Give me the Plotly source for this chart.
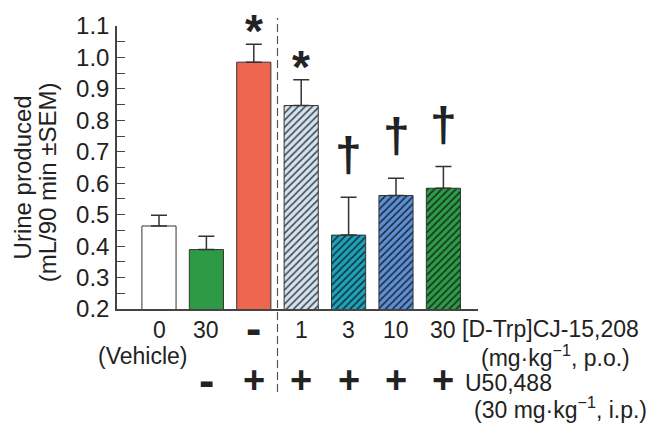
import plotly.graph_objects as go

# ---- data ----
groups = ["0", "30", "-", "1", "3", "10", "30"]
means = [0.464, 0.389, 0.985, 0.847, 0.435, 0.561, 0.584]
sem = [0.034, 0.042, 0.057, 0.082, 0.120, 0.055, 0.069]
u50488 = ["", "-", "+", "+", "+", "+", "+"]
marks = ["", "", "*", "*", "†", "†", "†"]
y_ticks = [0.2, 0.3, 0.4, 0.5, 0.6, 0.7, 0.8, 0.9, 1.0, 1.1]
y_ticklabels = ["0.2", "0.3", "0.4", "0.5", "0.6", "0.7", "0.8", "0.9", "1.0", "1.1"]

# ---- styles ----
bg_colors = ["#ffffff", "#2e9a45", "#ef6650", "#d8e2ea", "#1ba3b8", "#5e8fd0", "#2f9a48"]
fg_colors = ["#ffffff", "#2e9a45", "#ef6650", "#3a4a5a", "#15303e", "#1a2a44", "#10321c"]
shapes = ["", "", "", "/", "/", "/", "/"]
FONT = "Liberation Sans, Arial, sans-serif"
TXT = "#222222"

W, H = 652, 423
L, R, T, B = 117, 174, 23, 114
pw, ph = W - L - R, H - T - B

def px(xp):
    return (xp - L) / pw

def py(yp):
    return (H - B - yp) / ph

def label(x, y, text, size, xref="paper", xanchor="center", angle=0):
    return dict(x=x, y=y, xref=xref, yref="paper", text=text, showarrow=False,
                xanchor=xanchor, yanchor="middle", textangle=angle,
                font=dict(family=FONT, size=size, color=TXT))

fig = go.Figure()
for i in range(len(groups)):
    pat = dict(shape=shapes[i])
    if shapes[i]:
        pat.update(fgcolor=fg_colors[i], bgcolor=bg_colors[i], fgopacity=1,
                   size=5, solidity=0.32, fillmode="overlay")
    fig.add_trace(go.Bar(
        x=[i], y=[means[i]], width=0.72,
        marker=dict(color=bg_colors[i], line=dict(color="#333333", width=1), pattern=pat),
        error_y=dict(type="data", array=[sem[i]], arrayminus=[0], symmetric=False,
                     color="#333333", thickness=1.5, width=8),
        showlegend=False,
    ))

ann = []
# significance marks
for i, m in enumerate(marks):
    if not m:
        continue
    top = means[i] + sem[i]
    if m == "*":
        ann.append(dict(x=i, y=top, xref="x", yref="y", text="<b>*</b>", showarrow=False,
                        xanchor="center", yanchor="bottom", yshift=-15,
                        font=dict(family=FONT, size=46, color=TXT)))
    else:
        ann.append(dict(x=i, y=top, xref="x", yref="y", text="<b>†</b>", showarrow=False,
                        xanchor="center", yanchor="bottom", yshift=14,
                        font=dict(family=FONT, size=48, color=TXT)))

# row 1: dose labels
for i, g in enumerate(groups):
    if g == "-":
        ann.append(label(i, py(328), "<b>-</b>", 46, xref="x"))
    else:
        ann.append(label(i, py(330), g, 23, xref="x"))
ann.append(label(px(460), py(329), "[D-Trp]CJ-15,208", 23, xanchor="left"))
# row 2
ann.append(label(px(142), py(357), "(Vehicle)", 23))
ann.append(label(px(479), py(356), "(mg·kg<sup>−1</sup>, p.o.)", 23, xanchor="left"))
# row 3: U50,488
for i, s in enumerate(u50488):
    if not s:
        continue
    if s == "-":
        ann.append(label(i, py(381), "<b>-</b>", 46, xref="x"))
    else:
        ann.append(label(i, py(381), "<b>+</b>", 38, xref="x"))
ann.append(label(px(463), py(384), "U50,488", 23, xanchor="left"))
# row 4
ann.append(label(px(472), py(409), "(30 mg·kg<sup>−1</sup>, i.p.)", 23, xanchor="left"))
# y title (two lines)
ann.append(label(px(22), py(176), "Urine produced", 24, angle=-90))
ann.append(label(px(47), py(181), "(mL/90 min ±SEM)", 24, angle=-90))

fig.update_layout(
    width=W, height=H,
    margin=dict(l=L, r=R, t=T, b=B),
    paper_bgcolor="white", plot_bgcolor="white",
    barmode="overlay",
    annotations=ann,
    shapes=[dict(type="line", xref="x", yref="paper", x0=2.5, x1=2.5,
                 y0=py(393), y1=py(15), line=dict(color="#555555", width=1.2, dash="8px,4px"))],
    xaxis=dict(range=[-0.886, 6.73], showticklabels=False, ticks="", showgrid=False,
               zeroline=False, showline=True, linecolor="#444444", linewidth=1.5),
    yaxis=dict(range=[0.2, 1.1], tickvals=y_ticks, ticktext=y_ticklabels,
               ticks="inside", ticklen=8, tickwidth=1, tickcolor="#444444",
               minor=dict(ticks="inside", ticklen=8, tickwidth=1, tickcolor="#444444", dtick=0.05, tick0=0.2),
               showgrid=False, zeroline=False, showline=True, linecolor="#444444", linewidth=1.5,
               ticklabelstandoff=1,
               tickfont=dict(family=FONT, size=24, color=TXT)),
)

fig.write_html("out.html", config={"displayModeBar": False},
               post_script="document.body.style.margin='0';")
